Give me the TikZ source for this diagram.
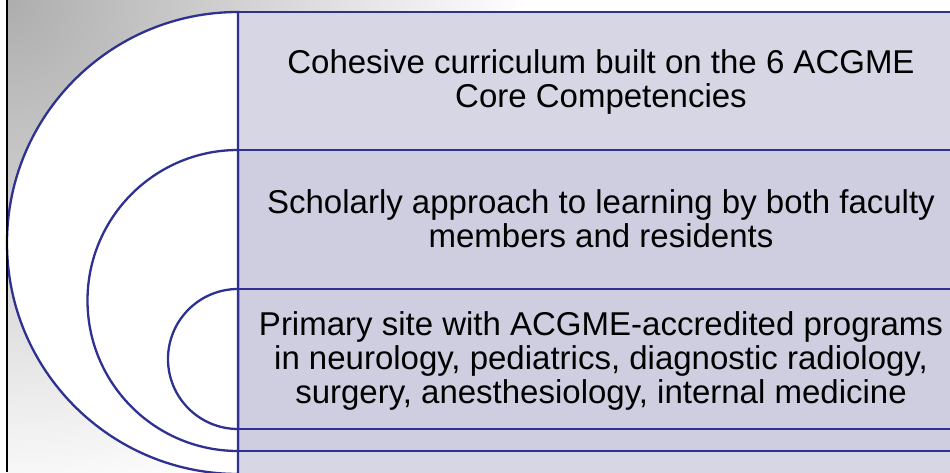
\documentclass[tikz,border=0pt]{standalone}
\usepackage{fontspec}
\setmainfont{Liberation Sans}
\definecolor{bandblue}{RGB}{46,49,146}
\definecolor{bandtex}{RGB}{214,214,229}
\definecolor{bandfill}{RGB}{206,206,224}
\tikzset{
  bandline/.style={color=bandblue,line width=2.3pt},
  bandtext/.style={align=center,inner sep=0pt,font=\fontsize{33}{34}\selectfont}
}
\begin{document}
\begin{tikzpicture}[x=1pt,y=1pt]
  \useasboundingbox (0,0) rectangle (950,472);

% BACKGROUND ==================================================================
  \begin{scope}
    \clip (7,0) rectangle (950,472);
    \shade[inner color=black!32,outer color=white] (7,472) circle (520);
  \end{scope}

% BANDS =======================================================================
  \begin{scope}
    \clip (0,0) rectangle (950,472);
    \fill[bandtex]  (238,322) rectangle (950,460); % 1
    \fill[bandfill] (238,183) rectangle (950,322); % 2
    \fill[bandfill] (238,43)  rectangle (950,183); % 3
    \fill[bandfill] (238,21)  rectangle (950,43);  % 4
    \fill[bandtex]  (238,-5)  rectangle (950,21);  % 5

% ARCS ========================================================================
    \draw[bandline,fill=white] (238,460) arc[start angle=90,end angle=270,radius=231] -- cycle;   % outer
    \draw[bandline,fill=white] (238,322) arc[start angle=90,end angle=270,radius=150.5] -- cycle; % middle
    \draw[bandline,fill=white] (238,183) arc[start angle=90,end angle=270,radius=70] -- cycle;    % inner

% LINES =======================================================================
    \foreach \y in {460,322,183,43,21} {
      \draw[bandline] (238,\y) to (950,\y);
    }
    \draw[bandline] (238,460) to (238,-5);
    \draw[line width=2pt] (7,0) to (7,472);
  \end{scope}

% TEXTS =======================================================================
  \node[bandtext] (core)     at (601,390.5) {Cohesive curriculum built on the 6 ACGME\\Core Competencies};
  \node[bandtext] (scholar)  at (601,253.5) {Scholarly approach to learning by both faculty\\members and residents};
  \node[bandtext] (primary)  at (601,111.5) {Primary site with ACGME-accredited programs\\in neurology, pediatrics, diagnostic radiology,\\surgery, anesthesiology, internal medicine};

\end{tikzpicture}
\end{document}
